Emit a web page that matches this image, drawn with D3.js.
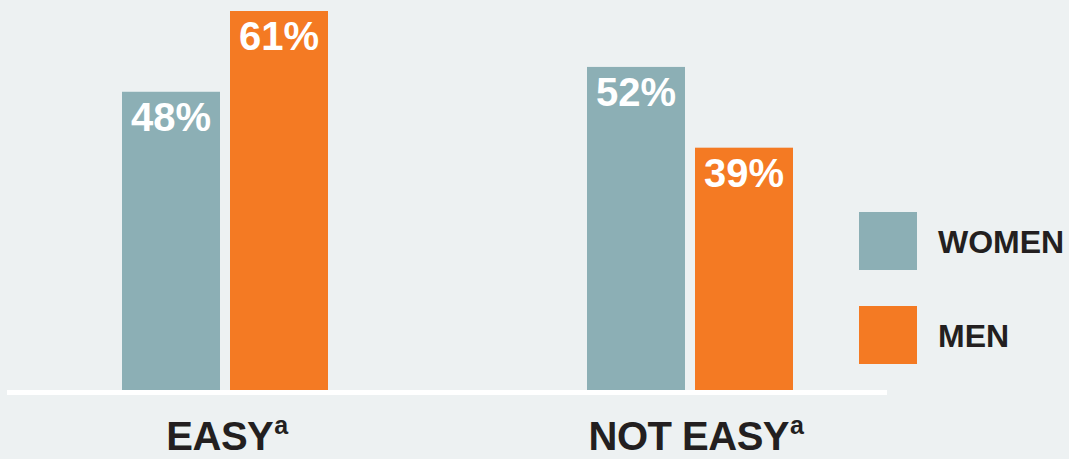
<!DOCTYPE html>
<html>
<head>
<meta charset="utf-8">
<script src="https://cdn.jsdelivr.net/npm/d3@7"></script>
<style>
  html, body { margin: 0; padding: 0; background: #edf1f2; }
  svg { display: block; font-family: "Liberation Sans", Arial, Helvetica, sans-serif; }
</style>
</head>
<body>
<svg id="chart" width="1069" height="459"></svg>
<script>
const categories = ["EASY", "NOT EASY"];
const categorySup = ["a", "a"];
const seriesNames = ["WOMEN", "MEN"];
const women = [48, 52];
const men = [61, 39];
const colors = ["#8cafb5", "#f47a23"];

const W = 1069, H = 459;
const svg = d3.select("#chart");
svg.append("rect").attr("width", W).attr("height", H).attr("fill", "#edf1f2");

const baseline = 390;
const y = d3.scaleLinear().domain([0, 61]).range([baseline, 11]);

// group positions and inner band scale
const groupStart = d3.scaleOrdinal().domain(categories).range([122, 587]);
const x1 = d3.scaleBand().domain(seriesNames).range([0, 206]).paddingInner(0.0926).paddingOuter(0);

const data = categories.map((c, i) => ({
  cat: c,
  sup: categorySup[i],
  values: [ {s: "WOMEN", v: women[i]}, {s: "MEN", v: men[i]} ]
}));

const g = svg.append("g");
const groups = g.selectAll("g.grp").data(data).join("g")
  .attr("class", "grp")
  .attr("transform", d => `translate(${groupStart(d.cat)},0)`);

groups.selectAll("rect").data(d => d.values).join("rect")
  .attr("x", d => x1(d.s))
  .attr("width", x1.bandwidth())
  .attr("y", d => y(d.v))
  .attr("height", d => baseline - y(d.v))
  .attr("fill", d => colors[seriesNames.indexOf(d.s)]);

groups.selectAll("text.val").data(d => d.values).join("text")
  .attr("class", "val")
  .attr("x", d => x1(d.s) + x1.bandwidth() / 2)
  .attr("y", d => y(d.v) + 39)
  .attr("text-anchor", "middle")
  .attr("fill", "#ffffff")
  .attr("font-weight", "bold")
  .attr("font-size", 40)
  .text(d => d.v + "%");

// baseline
svg.append("line")
  .attr("x1", 7).attr("x2", 887)
  .attr("y1", baseline + 2.5).attr("y2", baseline + 2.5)
  .attr("stroke", "#ffffff").attr("stroke-width", 5);

// category labels
const labels = svg.selectAll("text.cat").data(data).join("text")
  .attr("class", "cat")
  .attr("x", d => groupStart(d.cat) + 103 + (d.cat === "EASY" ? 2 : 6))
  .attr("y", 450)
  .attr("text-anchor", "middle")
  .attr("fill", "#231f20")
  .attr("font-weight", "bold")
  .attr("font-size", 40)
  .attr("letter-spacing", -0.5);
labels.append("tspan").text(d => d.cat);
labels.append("tspan")
  .attr("font-size", 25)
  .attr("dx", 1)
  .attr("dy", -16)
  .text(d => d.sup);

// legend
const legendY = d3.scaleOrdinal().domain(seriesNames).range([212, 306]);
const leg = svg.selectAll("g.leg").data(seriesNames).join("g")
  .attr("class", "leg")
  .attr("transform", d => `translate(859,${legendY(d)})`);
leg.append("rect").attr("width", 58).attr("height", 58)
  .attr("fill", (d, i) => colors[i]);
leg.append("text")
  .attr("x", 79).attr("y", 41)
  .attr("fill", "#231f20")
  .attr("font-weight", "bold")
  .attr("font-size", 32)
  .text(d => d);
</script>
</body>
</html>
